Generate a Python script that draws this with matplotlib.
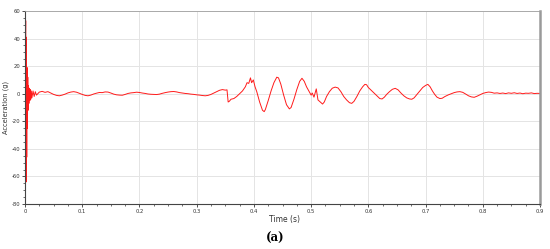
import matplotlib
matplotlib.use("Agg")
import matplotlib.pyplot as plt
from matplotlib.ticker import MultipleLocator

# Time (s) and acceleration (g) samples
time_s = [
    0.0, 0.0012, 0.0018, 0.0024, 0.003, 0.0036, 0.0042, 0.0048, 0.0054, 0.006,
    0.0068, 0.0076, 0.0084, 0.0092, 0.010, 0.011, 0.012, 0.014, 0.016, 0.018, 0.020,
    0.025, 0.03, 0.035, 0.04, 0.045, 0.05, 0.055, 0.06, 0.065, 0.07, 0.075, 0.08,
    0.085, 0.09, 0.095, 0.10, 0.105, 0.11, 0.115, 0.12, 0.125, 0.13, 0.135, 0.14,
    0.145, 0.15, 0.155, 0.16, 0.165, 0.17, 0.175, 0.18, 0.185, 0.19, 0.195, 0.20,
    0.205, 0.21, 0.215, 0.22, 0.225, 0.23, 0.235, 0.24, 0.245, 0.25, 0.255, 0.26,
    0.265, 0.27, 0.275, 0.28, 0.285, 0.29, 0.295, 0.30, 0.305, 0.31, 0.315, 0.32,
    0.325, 0.33, 0.335, 0.34, 0.345, 0.35, 0.353, 0.355, 0.357, 0.36, 0.365, 0.37,
    0.375, 0.38, 0.385, 0.388, 0.391, 0.394, 0.396, 0.399, 0.402, 0.405, 0.41,
    0.415, 0.418, 0.42, 0.425, 0.43, 0.435, 0.44, 0.443, 0.447, 0.452, 0.457,
    0.462, 0.465, 0.47, 0.475, 0.48, 0.484, 0.488, 0.492, 0.496, 0.500, 0.502,
    0.505, 0.509, 0.512, 0.516, 0.52, 0.523, 0.527, 0.532, 0.537, 0.542, 0.547,
    0.552, 0.557, 0.562, 0.567, 0.571, 0.575, 0.58, 0.585, 0.59, 0.594, 0.597,
    0.60, 0.605, 0.61, 0.615, 0.62, 0.624, 0.628, 0.632, 0.637, 0.642, 0.647,
    0.652, 0.657, 0.662, 0.667, 0.672, 0.676, 0.68, 0.685, 0.69, 0.695, 0.70,
    0.704, 0.708, 0.712, 0.716, 0.72, 0.725, 0.729, 0.734, 0.74, 0.745, 0.75,
    0.755, 0.76, 0.765, 0.77, 0.775, 0.78, 0.785, 0.79, 0.795, 0.80, 0.805, 0.81,
    0.815, 0.82, 0.825, 0.83, 0.835, 0.84, 0.845, 0.85, 0.855, 0.86, 0.865, 0.87,
    0.875, 0.88, 0.885, 0.89, 0.895, 0.90,
]
accel_g = [
    0, 53, -64, 41, -46, 19, -25, 12, -12, 6,
    -7, 4, -5, 3, -4, 2, -3, 2, -2, 1.5, -1,
    1.2, 1.7, 1.0, 1.5, 0.5, -0.5, -1.2, -1.5, -1.0, -0.3, 0.6, 1.2,
    1.5, 1.1, 0.3, -0.5, -1.2, -1.5, -1.0, -0.2, 0.4, 0.9, 0.8, 1.3,
    1.2, 0.5, -0.3, -0.8, -1.0, -1.1, -0.5, 0.2, 0.6, 0.8, 1.1, 0.9,
    0.5, 0.2, -0.2, -0.4, -0.5, -0.6, -0.3, 0.3, 0.8, 1.2, 1.5, 1.6,
    1.3, 0.8, 0.5, 0.2, 0.0, -0.3, -0.5, -0.8, -1.0, -1.3, -1.5, -1.2,
    -0.5, 0.5, 1.5, 2.5, 3.0, 2.6, 2.8, -6, -5.5, -4, -3.5, -2,
    0, 2, 5, 8, 7.5, 11.5, 8, 10, 5, 1.5, -6,
    -12, -13, -11.5, -5, 2, 8, 12, 11.5, 7, -1, -8,
    -11, -10, -4, 3, 9, 11.2, 9, 5, 2, -1, 0.5,
    -2.5, 3.5, -4.5, -6, -7.5, -6, -2, 1.5, 4.0, 4.8, 4.2,
    1.5, -2, -4.5, -6.5, -7, -5.5, -2, 2, 5, 6.8, 6.5,
    4.5, 2.5, 0.5, -1.5, -3.5, -3.8, -2.5, -0.5, 1.5, 3.2, 3.9,
    2.8, 0.5, -1.5, -3, -3.8, -4, -3, -0.5, 2, 4.5, 6,
    6.8, 5, 2, -0.5, -2.5, -3.5, -3.3, -2, -0.8, 0, 0.8,
    1.3, 1.5, 1.0, -0.2, -1.5, -2.3, -2.6, -1.8, -0.8, 0.2, 0.8, 1.2,
    1.0, 0.4, 0.6, 0.2, 0.5, 0.1, 0.6, 0.3, 0.7, 0.2, 0.5, 0.0,
    0.4, 0.3, 0.6, 0.1, 0.3, 0.2,
]

x_ticks = [0, 0.1, 0.2, 0.3, 0.4, 0.5, 0.6, 0.7, 0.8, 0.9]
x_tick_labels = ["0", "0.1", "0.2", "0.3", "0.4", "0.5", "0.6", "0.7", "0.8", "0.9"]
y_ticks = [-80, -60, -40, -20, 0, 20, 40, 60]
y_tick_labels = ["-80", "-60", "-40", "-20", "0", "20", "40", "60"]

fig = plt.figure(figsize=(5.5, 2.49), dpi=100)
ax = fig.add_axes([0.0455, 0.1807, 0.9363, 0.7751])

ax.plot(time_s, accel_g, color="#ff1a1a", linewidth=0.7)

ax.set_xlim(0, 0.9)
ax.set_ylim(-80, 60)
ax.set_xticks(x_ticks)
ax.set_xticklabels(x_tick_labels)
ax.set_yticks(y_ticks)
ax.set_yticklabels(y_tick_labels)
ax.xaxis.set_minor_locator(MultipleLocator(0.025))
ax.yaxis.set_minor_locator(MultipleLocator(5))
ax.tick_params(axis="both", which="major", labelsize=3.8, length=2.2, width=0.6,
               color="#333333", labelcolor="#333333", pad=1.2)
ax.tick_params(axis="both", which="minor", length=1.4, width=0.5, color="#333333")

ax.grid(True, which="major", color="#e4e4e4", linewidth=0.7)
ax.set_axisbelow(True)

for side in ("left", "bottom"):
    ax.spines[side].set_color("#444444")
    ax.spines[side].set_linewidth(0.8)
ax.spines["top"].set_color("#a0a0a0")
ax.spines["top"].set_linewidth(0.6)
ax.spines["right"].set_color("#9a9a9a")
ax.spines["right"].set_linewidth(1.8)

fig.text(0.011, 0.57, "Acceleration (g)", fontsize=4.8, color="#333333",
         rotation=90, ha="center", va="center")
fig.text(0.518, 0.12, "Time (s)", fontsize=5.5, color="#333333", ha="center", va="center")
fig.text(0.5, 0.044, "(a)", fontsize=8.5, fontweight="bold", family="DejaVu Serif",
         ha="center", va="center")

fig.savefig("out.png", dpi=100)
